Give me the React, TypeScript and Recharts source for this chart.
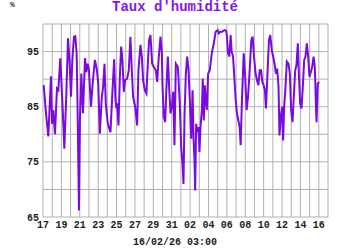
import React from 'react';
import { LineChart, Line, XAxis, YAxis, CartesianGrid } from 'recharts';

const title = "Taux d'humidité";
const unitLabel = '%';
const timeLabel = '16/02/26 03:00';

// day offsets from 17 Jan 00:00
const days = [
  0.07, 0.36, 0.58, 0.87, 0.98, 1.12, 1.3, 1.52, 1.67, 1.88, 2.1, 2.32, 2.54, 2.72, 2.9, 3.04, 3.19, 3.37, 3.51, 3.66,
  3.77, 3.91, 4.02, 4.17, 4.35, 4.57, 4.71, 4.86, 5.0, 5.22, 5.43, 5.65, 5.87, 6.01, 6.18, 6.4, 6.54, 6.69, 6.83, 7.05,
  7.34, 7.56, 7.74, 7.88, 7.99, 8.07, 8.21, 8.36, 8.5, 8.64, 8.79, 8.93, 9.15, 9.33, 9.51, 9.66, 9.8, 10.02, 10.24, 10.38,
  10.6, 10.75, 10.89, 11.07, 11.25, 11.4, 11.54, 11.69, 11.87, 12.05, 12.27, 12.42, 12.57, 12.78, 12.93, 13.0, 13.14, 13.29, 13.43, 13.58,
  13.72, 13.87, 14.01, 14.16, 14.3, 14.45, 14.67, 14.88, 15.03, 15.17, 15.28, 15.39, 15.54, 15.68, 15.83, 15.97, 16.12, 16.27, 16.37, 16.48,
  16.55, 16.66, 16.77, 16.91, 17.02, 17.13, 17.28, 17.38, 17.49, 17.6, 17.71, 17.82, 17.96, 18.14, 18.36, 18.58, 18.78, 19.0, 19.14, 19.29,
  19.5, 19.72, 19.9, 20.0, 20.12, 20.27, 20.41, 20.52, 20.67, 20.81, 20.96, 21.1, 21.25, 21.39, 21.5, 21.64, 21.83, 22.01, 22.15, 22.3,
  22.48, 22.66, 22.8, 22.95, 23.13, 23.28, 23.43, 23.57, 23.72, 23.86, 24.0, 24.14, 24.25, 24.4, 24.58, 24.72, 24.9, 25.04, 25.18, 25.33,
  25.47, 25.62, 25.72, 25.87, 26.01, 26.12, 26.23, 26.38, 26.52, 26.7, 26.85, 26.99, 27.14, 27.28, 27.43, 27.57, 27.72, 27.83, 27.97, 28.12,
  28.26, 28.41, 28.55, 28.7, 28.84, 28.99, 29.13, 29.28, 29.43, 29.57, 29.67, 29.75, 29.89, 30.03,
];

const humidity = [
  88.9, 83.2, 79.6, 90.5, 81.9, 84.4, 80.0, 88.3, 88.0, 93.8, 86.2, 77.4, 87.4, 97.4, 92.8, 86.8, 93.5, 97.7, 97.8, 94.7,
  83.8, 66.2, 82.5, 91.0, 83.8, 93.8, 91.3, 92.8, 91.6, 85.0, 89.8, 93.5, 91.6, 89.2, 80.1, 86.8, 88.6, 92.8, 85.6, 81.9,
  80.4, 88.0, 93.6, 86.2, 84.7, 85.6, 81.6, 90.4, 95.9, 93.5, 87.7, 89.8, 90.1, 91.6, 97.7, 91.6, 86.8, 85.0, 81.6, 91.6,
  96.2, 94.1, 89.8, 88.0, 87.4, 92.8, 97.1, 98.0, 92.8, 92.2, 91.6, 89.5, 93.5, 97.7, 94.7, 88.6, 83.2, 82.2, 88.6, 94.1,
  88.6, 83.8, 85.0, 87.7, 78.0, 92.8, 92.2, 85.6, 77.7, 74.7, 71.0, 83.2, 91.0, 94.1, 91.6, 86.2, 79.2, 88.0, 79.5, 75.3,
  69.8, 81.9, 80.4, 81.3, 76.8, 81.3, 84.4, 90.1, 82.5, 88.9, 86.2, 84.4, 91.0, 91.6, 94.7, 96.5, 98.6, 98.9, 98.3, 98.6,
  98.6, 98.9, 98.8, 98.0, 94.7, 94.1, 98.0, 95.0, 94.1, 90.4, 86.2, 83.8, 82.5, 81.3, 78.0, 86.2, 94.7, 89.8, 84.4, 86.8,
  91.6, 97.1, 97.7, 94.1, 91.0, 89.8, 88.9, 91.6, 91.6, 89.5, 88.9, 88.0, 84.7, 90.4, 97.1, 98.0, 95.0, 94.1, 92.8, 91.0,
  91.9, 88.6, 79.8, 83.2, 85.0, 78.9, 85.0, 88.6, 93.2, 92.8, 91.0, 84.4, 82.2, 86.8, 91.6, 92.5, 96.5, 91.0, 85.6, 84.7,
  88.6, 93.5, 94.1, 96.5, 94.1, 90.4, 91.3, 92.2, 94.1, 92.2, 86.2, 82.2, 89.2, 89.5,
];

const xTickLabels = ['17', '19', '21', '23', '25', '27', '29', '31', '02', '04', '06', '08', '10', '12', '14', '16'];
const yTickValues = [65, 70, 75, 80, 85, 90, 95, 100];
const yLabelValues = [65, 75, 85, 95];

const data = days.map((d, i) => ({ d, h: humidity[i] }));
const xTicks = Array.from({ length: 32 }, (_, i) => i);

const tickStyle = { fontSize: 10, fontFamily: 'Liberation Mono, monospace', fontWeight: 'bold', fill: '#222' };

export default function App() {
  return (
    <div style={{ position: 'absolute', left: 0, top: 0, width: 350, height: 250, background: '#fff' }}>
      <div style={{ position: 'absolute', left: 10, top: 1, fontSize: 8, lineHeight: '8px', fontFamily: 'Liberation Mono, monospace', color: '#333', fontWeight: 'bold' }}>{unitLabel}</div>
      <div style={{ position: 'absolute', left: 0, width: 350, top: 0, textAlign: 'center', fontSize: 14, lineHeight: '15px', fontFamily: 'Liberation Mono, monospace', fontWeight: 'bold', color: '#8418e6' }}>{title}</div>
      <LineChart width={350} height={250} data={data} margin={{ top: 24, right: 22, left: 0, bottom: 0 }}>
        <CartesianGrid stroke="#b0b0b0" strokeWidth={1} />
        <XAxis
          type="number"
          dataKey="d"
          domain={[0, 31]}
          ticks={xTicks}
          interval={0}
          height={33}
          axisLine={false}
          tickLine={false}
          tickSize={0}
          tickMargin={4}
          tick={tickStyle}
          tickFormatter={(v: number) => (v % 2 === 0 && v / 2 < xTickLabels.length ? xTickLabels[v / 2] : '')}
        />
        <YAxis
          type="number"
          domain={[65, 100]}
          ticks={yTickValues}
          interval={0}
          width={43}
          axisLine={false}
          tickLine={false}
          tickSize={0}
          tickMargin={4}
          tick={tickStyle}
          tickFormatter={(v: number) => (yLabelValues.includes(v) ? String(v) : '')}
        />
        <Line type="linear" dataKey="h" stroke="#7a0ae0" strokeWidth={2} dot={false} isAnimationActive={false} />
      </LineChart>
      <div style={{ position: 'absolute', left: 0, width: 350, top: 237, textAlign: 'center', fontSize: 10, lineHeight: '11px', fontFamily: 'Liberation Mono, monospace', fontWeight: 'bold', color: '#222' }}>{timeLabel}</div>
    </div>
  );
}
